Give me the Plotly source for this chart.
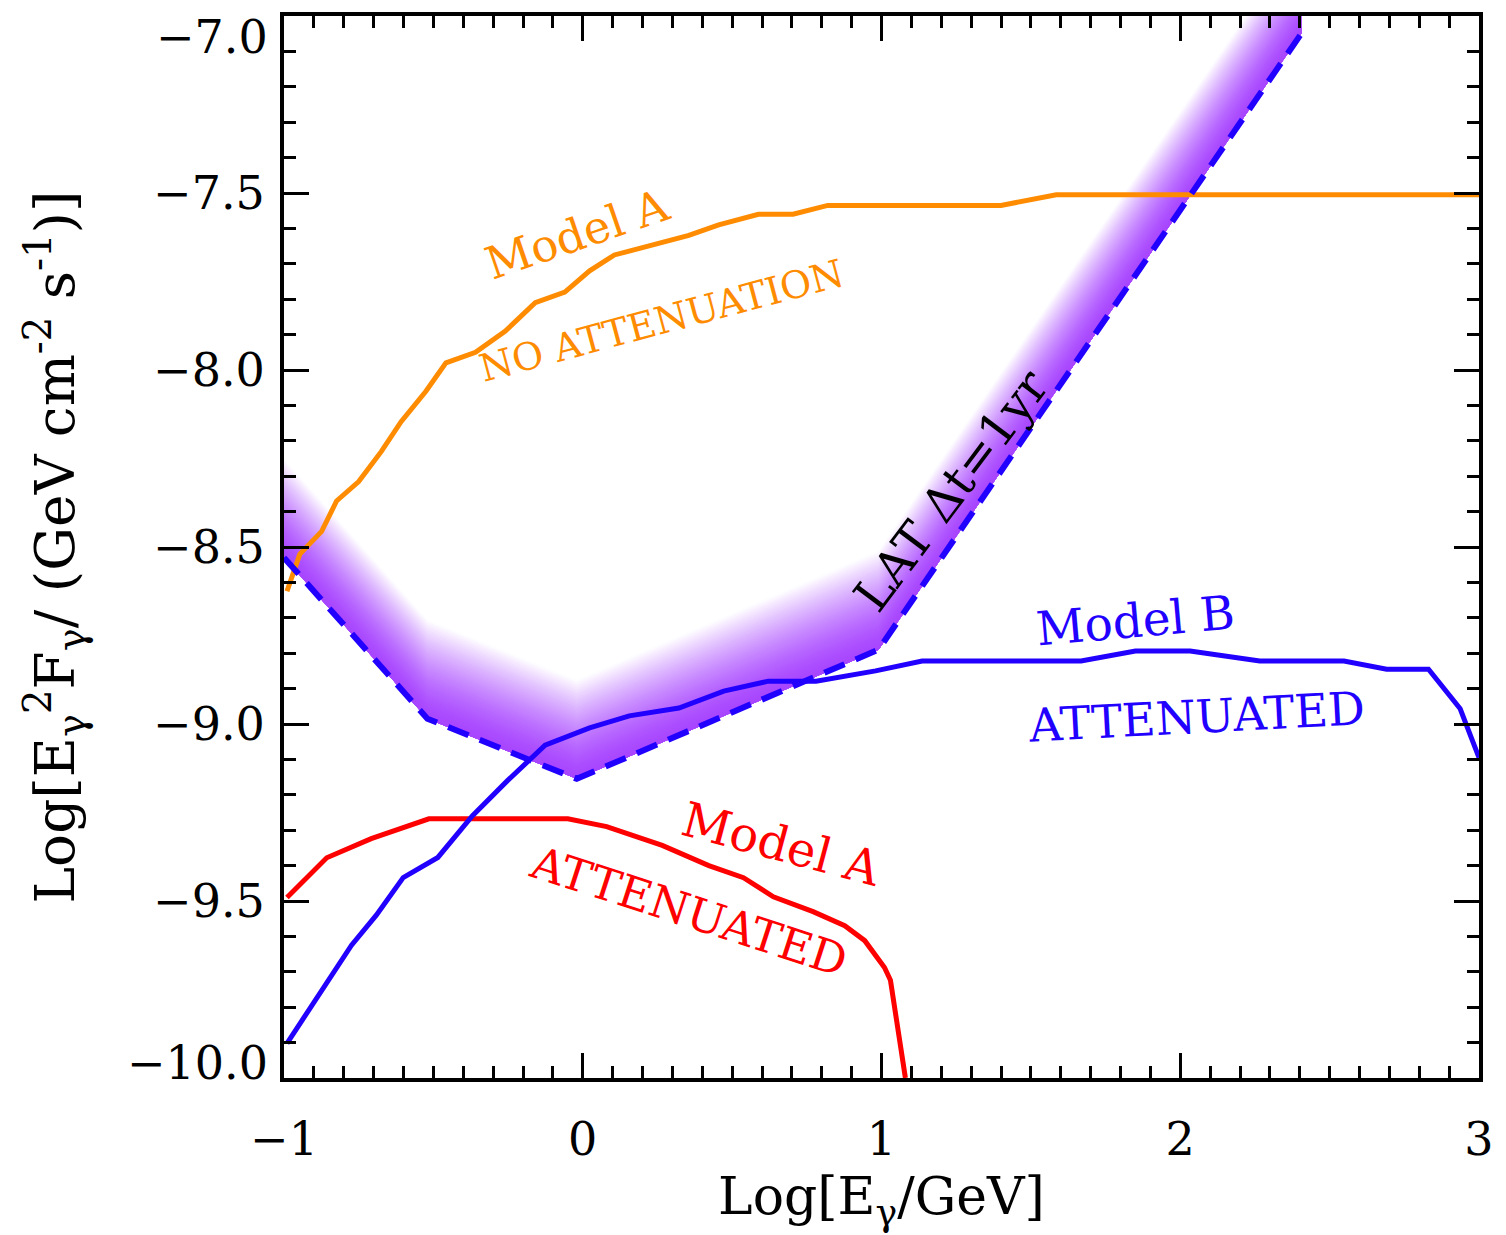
import plotly.graph_objects as go

# ---------------- data ----------------
# Model A, no attenuation (orange)
orange_x = [-0.99, -0.947, -0.874, -0.824, -0.75, -0.674, -0.608, -0.525, -0.458, -0.359,
            -0.259, -0.159, -0.06, 0.023, 0.106, 0.223, 0.355, 0.455, 0.588, 0.704,
            0.82, 1.40, 1.585, 3.0]
orange_y = [-8.625, -8.52, -8.456, -8.37, -8.315, -8.23, -8.146, -8.06, -7.98, -7.95,
            -7.89, -7.81, -7.78, -7.72, -7.675, -7.65, -7.62, -7.59, -7.56, -7.56,
            -7.535, -7.535, -7.505, -7.505]

# Model A, attenuated (red)
red_x = [-0.99, -0.857, -0.708, -0.608, -0.515, -0.05, 0.08, 0.266, 0.422, 0.538,
         0.638, 0.771, 0.877, 0.944, 1.01, 1.03, 1.08]
red_y = [-9.49, -9.378, -9.324, -9.296, -9.268, -9.268, -9.29, -9.343, -9.40, -9.434,
         -9.488, -9.53, -9.57, -9.612, -9.688, -9.724, -10.0]

# Model B, attenuated (blue)
blue_x = [-0.99, -0.874, -0.774, -0.691, -0.601, -0.485, -0.369, -0.252, -0.126, 0.023,
          0.156, 0.322, 0.472, 0.621, 0.781, 0.98, 1.136, 1.668, 1.85, 2.033,
          2.266, 2.548, 2.691, 2.831, 2.937, 3.0]
blue_y = [-9.902, -9.752, -9.625, -9.54, -9.434, -9.377, -9.259, -9.16, -9.06, -9.011,
          -8.977, -8.955, -8.907, -8.879, -8.879, -8.85, -8.822, -8.822, -8.794, -8.794,
          -8.822, -8.822, -8.845, -8.845, -8.957, -9.095]

# LAT 1-yr sensitivity (dashed)
lat_x = [-1.0, -0.52, -0.02, 0.99, 2.405]
lat_y = [-8.53, -8.985, -9.155, -8.79, -7.05]

# axis ticks
y_tickvals = [-10.0, -9.5, -9.0, -8.5, -8.0, -7.5, -7.0]
y_ticktext = ["", "\u22129.5", "\u22129.0", "\u22128.5", "\u22128.0", "\u22127.5", ""]
y_edge_labels = [(-7.0, "\u22127.0", -21), (-10.0, "\u221210.0", 15)]

# ---------------- style ----------------
FONT = "DejaVu Serif"
ORANGE = "#ff8c00"
RED = "#ff0000"
BLUE = "#2200ff"
PURPLE = (168, 70, 255)

fig = go.Figure()

# gradient band above the LAT curve (overlapping polygons, lightest first)
N = 40
band = 0.28
for k in range(N, 0, -1):
    off = band * k / N
    t = ((k - 0.5) / N) ** 1.5
    c = tuple(int(round(PURPLE[i] * (1 - t) + 255 * t)) for i in range(3))
    up = [v + off for v in lat_y]
    fig.add_trace(go.Scatter(
        x=lat_x + lat_x[::-1], y=lat_y + up[::-1],
        fill="toself", fillcolor="rgb(%d,%d,%d)" % c,
        line=dict(width=0), mode="lines", hoverinfo="skip", showlegend=False))

fig.add_trace(go.Scatter(x=orange_x, y=orange_y, mode="lines",
                         line=dict(color=ORANGE, width=5), showlegend=False))
fig.add_trace(go.Scatter(x=red_x, y=red_y, mode="lines",
                         line=dict(color=RED, width=5), showlegend=False))
fig.add_trace(go.Scatter(x=blue_x, y=blue_y, mode="lines",
                         line=dict(color=BLUE, width=5), showlegend=False))
fig.add_trace(go.Scatter(x=lat_x, y=lat_y, mode="lines",
                         line=dict(color=BLUE, width=6, dash="22px,12px"), showlegend=False))

labels = [
    ("Model A", -0.02, -7.616, -19, ORANGE, 45),
    ("NO ATTENUATION", 0.262, -7.861, -15, ORANGE, 38),
    ("LAT \u0394t=1yr", 1.233, -8.340, -53, "black", 48),
    ("Model B", 1.85, -8.709, -5, BLUE, 47),
    ("ATTENUATED", 2.053, -8.980, -3, BLUE, 46),
    ("Model A", 0.668, -9.338, 15, RED, 48),
    ("ATTENUATED", 0.355, -9.53, 18, RED, 45),
]
for txt, x, y, ang, col, sz in labels:
    fig.add_annotation(x=x, y=y, text=txt, textangle=ang, showarrow=False,
                       xanchor="center", yanchor="middle",
                       font=dict(family=FONT, size=sz, color=col))

TICKSIZE = 46
for val, txt, shift in y_edge_labels:
    fig.add_annotation(xref="paper", x=0, y=val, text=txt, showarrow=False,
                       xanchor="right", yanchor="middle", xshift=-14, yshift=shift,
                       font=dict(family=FONT, size=TICKSIZE, color="black"))

axis_common = dict(
    showline=True, linewidth=4, linecolor="black", mirror="allticks",
    ticks="inside", ticklen=25, tickwidth=3, tickcolor="black",
    showgrid=False, zeroline=False, ticklabeloverflow="allow",
    tickfont=dict(family=FONT, size=TICKSIZE, color="black"),
    minor=dict(ticks="inside", ticklen=12, tickwidth=3, tickcolor="black", dtick=0.1, showgrid=False),
)

fig.update_xaxes(range=[-1, 3], tick0=0, dtick=1, ticklabelstandoff=18,
                 title=dict(text="Log[E<sub>\u03b3</sub>/GeV]",
                            font=dict(family=FONT, size=52, color="black"), standoff=6),
                 **axis_common)
fig.update_yaxes(range=[-10, -7], tickmode="array", tickvals=y_tickvals, ticktext=y_ticktext,
                 ticklabelstandoff=6,
                 title=dict(text="Log[E<sub>\u03b3</sub><sup>2</sup>F<sub>\u03b3</sub>/ (GeV cm<sup>-2</sup> s<sup>-1</sup>)]",
                            font=dict(family=FONT, size=55, color="black"), standoff=62),
                 **axis_common)

fig.update_layout(width=1506, height=1235, margin=dict(l=284, r=18, t=14, b=157),
                  plot_bgcolor="white", paper_bgcolor="white")

fig.write_html("out.html")
